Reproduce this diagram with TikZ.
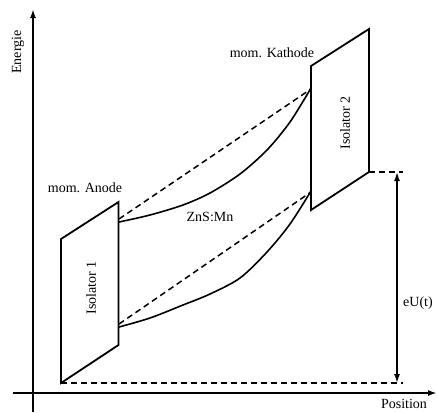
\documentclass[tikz,border=0pt]{standalone}
\usepackage{fontspec}
\setmainfont{Liberation Serif}
\usetikzlibrary{arrows.meta}
\begin{document}
\begin{tikzpicture}[x=0.5pt,y=-0.5pt,
  lbl/.style={font=\fontsize{7}{8}\selectfont, inner sep=0pt},
  axis/.style={line width=0.9pt, -{Latex[length=4.5pt,width=3pt]}},
  plate/.style={line width=0.9pt, line join=miter},
  dashline/.style={line width=0.75pt, dash pattern=on 3pt off 2pt},
  band/.style={line width=0.8pt}]
\useasboundingbox (0,0) rectangle (437,412);
% axes
\coordinate (yb) at (33,412);
\coordinate (yt) at (33,9);
\coordinate (xl) at (13,393);
\coordinate (xr) at (437,393);
\draw[axis] (yb) -- (yt);
\draw[axis] (xl) -- (xr);
\node[lbl, rotate=90] (energie) at (18,52) {Energie};
\node[lbl, anchor=north] (position) at (404,399) {Position};
% Isolator 1
\coordinate (a1) at (61,239);
\coordinate (a2) at (118.5,202);
\coordinate (a3) at (118.5,345);
\coordinate (a4) at (61,383);
\draw[plate] (a1) -- (a2) -- (a3) -- (a4) -- cycle;
\node[lbl, rotate=90] (iso1) at (91,288) {Isolator 1};
% Isolator 2
\coordinate (b1) at (311,66);
\coordinate (b2) at (369,29);
\coordinate (b3) at (369,172);
\coordinate (b4) at (311,210);
\draw[plate] (b1) -- (b2) -- (b3) -- (b4) -- cycle;
\node[lbl, rotate=90] (iso2) at (345,123) {Isolator 2};
% labels
\node[lbl] (anode) at (85,188) {mom. Anode};
\node[lbl] (kathode) at (272,53) {mom. Kathode};
\node[lbl] (zns) at (210,217) {ZnS:Mn};
% dashed straight bands
\coordinate (u1) at (119,219);
\coordinate (u2) at (311,89);
\coordinate (l1) at (119,324);
\coordinate (l2) at (311,192);
\draw[dashline] (u1) -- (u2);
\draw[dashline] (l1) -- (l2);
% curved bands
\draw[band] plot[smooth, tension=0.5] coordinates {(119,222) (150,215) (183,205) (210,193) (240,174) (267,150) (290,122) (311,88)};
\draw[band] plot[smooth, tension=0.5] coordinates {(119,327) (150,318) (183,305) (210,294) (240,278) (267,252) (290,224) (311,191)};
% voltage
\coordinate (d1) at (403,383);
\coordinate (d2) at (403,172);
\coordinate (v1) at (397,172);
\coordinate (v2) at (397,383);
\draw[dashline] (a4) -- (d1);
\draw[dashline] (b3) -- (d2);
\draw[line width=0.8pt, {Latex[length=4.5pt,width=3pt]}-{Latex[length=4.5pt,width=3pt]}] (v1) -- (v2);
\node[lbl] (eu) at (418,303) {eU(t)};
\end{tikzpicture}
\end{document}
